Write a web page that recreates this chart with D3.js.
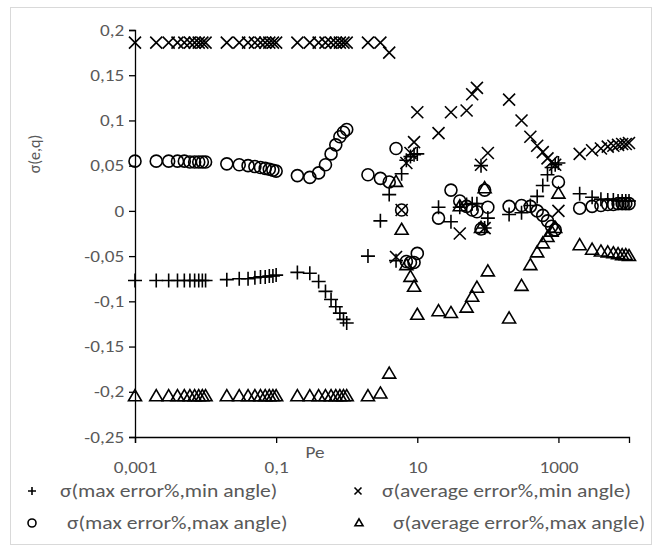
<!DOCTYPE html>
<html>
<head>
<meta charset="utf-8">
<script src="https://cdn.jsdelivr.net/npm/d3@7"></script>
<style>
  body { margin: 0; background: #fff; }
  text { font-family: Carlito, "Open Sans", sans-serif; }
</style>
</head>
<body>
<div id="chart-container"></div>
<script>
// Pe values (log axis)
const pe = [
  0.001, 0.002, 0.003, 0.004, 0.005, 0.006, 0.007, 0.008, 0.009, 0.01,
  0.02, 0.03, 0.04, 0.05, 0.06, 0.07, 0.08, 0.09, 0.1,
  0.2, 0.3, 0.4, 0.5, 0.6, 0.7, 0.8, 0.9, 1,
  2, 3, 4, 5, 6, 7, 8, 9, 10,
  20, 30, 40, 50, 60, 70, 80, 90, 100,
  200, 300, 400, 500, 600, 700, 800, 900, 1000,
  2000, 3000, 4000, 5000, 6000, 7000, 8000, 9000, 10000
];

// σ(max error%,min angle)  "+"
const maxErrMinAngle = [
  -0.077, -0.077, -0.077, -0.077, -0.077, -0.077, -0.077, -0.077, -0.077, -0.077,
  -0.076, -0.075, -0.075, -0.074, -0.073, -0.073, -0.072, -0.072, -0.071,
  -0.068, -0.069, -0.078, -0.089, -0.098, -0.106, -0.113, -0.120, -0.124,
  -0.050, -0.011, 0.018, -0.055, 0.041, 0.056, 0.060, 0.062, 0.063,
  0.004, -0.012, 0.004, 0.007, 0.008, 0.008, 0.050, -0.019, -0.008,
  -0.004, -0.002, 0.006, 0.016, 0.028, 0.040, 0.048, 0.051, 0.053,
  0.019, 0.015, 0.013, 0.012, 0.012, 0.011, 0.011, 0.011, 0.011
];

// σ(average error%,min angle)  "x"
const avgErrMinAngle = [
  0.186, 0.186, 0.186, 0.186, 0.186, 0.186, 0.186, 0.186, 0.186, 0.186,
  0.186, 0.186, 0.186, 0.186, 0.186, 0.186, 0.186, 0.186, 0.186,
  0.186, 0.186, 0.186, 0.186, 0.186, 0.186, 0.186, 0.186, 0.186,
  0.186, 0.186, 0.175, -0.051, 0.001, 0.053, 0.064, 0.076, 0.109,
  0.086, 0.109, -0.025, 0.111, 0.129, 0.136, 0.051, -0.019, 0.064,
  0.123, 0.100, 0.082, 0.072, 0.065, 0.058, 0.054, 0.051, 0.000,
  0.063, 0.067, 0.069, 0.071, 0.072, 0.073, 0.074, 0.074, 0.075
];

// σ(max error%,max angle)  "o"
const maxErrMaxAngle = [
  0.055, 0.055, 0.055, 0.055, 0.055, 0.054, 0.054, 0.054, 0.054, 0.054,
  0.052, 0.051, 0.050, 0.049, 0.048, 0.047, 0.046, 0.045, 0.044,
  0.039, 0.037, 0.042, 0.051, 0.063, 0.073, 0.082, 0.087, 0.090,
  0.040, 0.036, 0.032, 0.069, 0.001, -0.056, -0.057, -0.057, -0.047,
  -0.008, 0.023, 0.011, 0.005, 0.001, -0.001, -0.020, 0.023, 0.004,
  0.005, 0.006, 0.005, 0.000, -0.005, -0.011, -0.017, -0.021, 0.032,
  0.003, 0.005, 0.006, 0.007, 0.007, 0.008, 0.008, 0.008, 0.008
];

// σ(average error%,max angle)  triangle
const avgErrMaxAngle = [
  -0.205, -0.205, -0.205, -0.205, -0.205, -0.205, -0.205, -0.205, -0.205, -0.205,
  -0.205, -0.205, -0.205, -0.205, -0.205, -0.205, -0.205, -0.205, -0.205,
  -0.205, -0.205, -0.205, -0.205, -0.205, -0.205, -0.205, -0.205, -0.205,
  -0.205, -0.202, -0.180, 0.032, -0.021, -0.060, -0.073, -0.084, -0.115,
  -0.111, -0.113, 0.005, -0.107, -0.095, -0.085, -0.019, 0.025, -0.067,
  -0.119, -0.083, -0.060, -0.046, -0.036, -0.029, -0.023, -0.019, 0.019,
  -0.038, -0.043, -0.045, -0.046, -0.047, -0.048, -0.049, -0.049, -0.050
];

const yTicks = [0.2, 0.15, 0.1, 0.05, 0, -0.05, -0.1, -0.15, -0.2, -0.25];
const yTickLabels = ["0,2", "0,15", "0,1", "0,05", "0", "-0,05", "-0,1", "-0,15", "-0,2", "-0,25"];
const xTicks = [0.001, 0.1, 10, 1000];
const xTickLabels = ["0,001", "0,1", "10", "1000"];
const seriesNames = [
  "σ(max error%,min angle)",
  "σ(average error%,min angle)",
  "σ(max error%,max angle)",
  "σ(average error%,max angle)"
];

const W = 662, H = 552;
const textColor = "#595959";
const stretch = 1.2; // the reference picture is a little wider than tall

// marker shapes as path strings
function plusPath(s) { return `M${-s},0H${s}M0,${-s}V${s}`; }
function timesPath(s) { return `M${-s},${-s}L${s},${s}M${-s},${s}L${s},${-s}`; }
function triPath(w) {
  const h = w * 0.85;
  return `M0,${-h * 0.6}L${w / 2},${h * 0.4}L${-w / 2},${h * 0.4}Z`;
}
function circlePath(r) {
  return `M${r},0A${r},${r} 0 1,1 ${-r},0A${r},${r} 0 1,1 ${r},0Z`;
}

const svg = d3.select("#chart-container")
  .append("svg")
    .attr("width", W)
    .attr("height", H);

// chart area border
svg.append("rect")
  .attr("x", 10.5).attr("y", 7.5)
  .attr("width", 641).attr("height", 537)
  .attr("fill", "#fff")
  .attr("stroke", "#d9d9d9")
  .attr("stroke-width", 1);

const x = d3.scaleLog()
  .domain([0.001, 10000])
  .range([135, 629]);

const y = d3.scaleLinear()
  .domain([-0.25, 0.2])
  .range([437, 30]);

// y axis
const yAxis = svg.append("g")
  .attr("transform", `translate(${x(0.001)},0)`)
  .call(d3.axisLeft(y)
    .tickValues(yTicks)
    .tickSize(6)
    .tickPadding(3)
    .tickFormat((d, i) => yTickLabels[i]));
yAxis.select(".domain").attr("stroke", "#000").attr("stroke-width", 1.3);
yAxis.selectAll(".tick line").attr("stroke", "#000").attr("stroke-width", 1.3);
yAxis.selectAll(".tick text")
  .attr("fill", textColor)
  .attr("transform", `scale(${stretch},1)`)
  .style("font-size", "16px");

// x axis
const xAxis = svg.append("g")
  .attr("transform", `translate(0,${y(-0.25)})`)
  .call(d3.axisBottom(x)
    .tickValues(xTicks)
    .tickSize(6)
    .tickPadding(19)
    .tickFormat((d, i) => xTickLabels[i]));
xAxis.select(".domain").attr("stroke", "#000").attr("stroke-width", 1.3);
xAxis.selectAll(".tick line").attr("stroke", "#000").attr("stroke-width", 1.3);
xAxis.selectAll(".tick text")
  .attr("fill", textColor)
  .attr("transform", `scale(${stretch},1)`)
  .style("font-size", "16px");

// axis titles
svg.append("text")
  .attr("transform", `translate(315,458) scale(${stretch},1)`)
  .attr("text-anchor", "middle")
  .attr("fill", textColor)
  .style("font-size", "16px")
  .text("Pe");

svg.append("text")
  .attr("transform", "translate(40,154) rotate(-90)")
  .attr("text-anchor", "middle")
  .attr("fill", textColor)
  .style("font-size", "16px")
  .text("σ(e,q)");

// series
const series = [
  { values: maxErrMinAngle, d: plusPath(7) },
  { values: avgErrMinAngle, d: timesPath(6) },
  { values: maxErrMaxAngle, d: circlePath(6) },
  { values: avgErrMaxAngle, d: triPath(13) }
];

const plot = svg.append("g");
series.forEach(s => {
  plot.selectAll(null)
    .data(pe.map((p, i) => [p, s.values[i]]))
    .join("path")
      .attr("transform", d => `translate(${x(d[0])},${y(d[1])})`)
      .attr("d", s.d)
      .attr("fill", "none")
      .attr("stroke", "#000")
      .attr("stroke-width", 1.6);
});

// legend
const legendItems = [
  { d: plusPath(4), mx: 32, my: 491, tx: 60 },
  { d: timesPath(3.5), mx: 358, my: 491, tx: 382 },
  { d: circlePath(4), mx: 32, my: 523, tx: 67 },
  { d: triPath(8), mx: 359, my: 523, tx: 393 }
];
const legend = svg.append("g");
legendItems.forEach((it, i) => {
  legend.append("path")
    .attr("transform", `translate(${it.mx},${it.my})`)
    .attr("d", it.d)
    .attr("fill", "none")
    .attr("stroke", "#000")
    .attr("stroke-width", 1.6);
  legend.append("text")
    .attr("transform", `translate(${it.tx},${it.my + 6}) scale(${stretch},1)`)
    .attr("fill", textColor)
    .style("font-size", "18px")
    .text(seriesNames[i]);
});
</script>
</body>
</html>
